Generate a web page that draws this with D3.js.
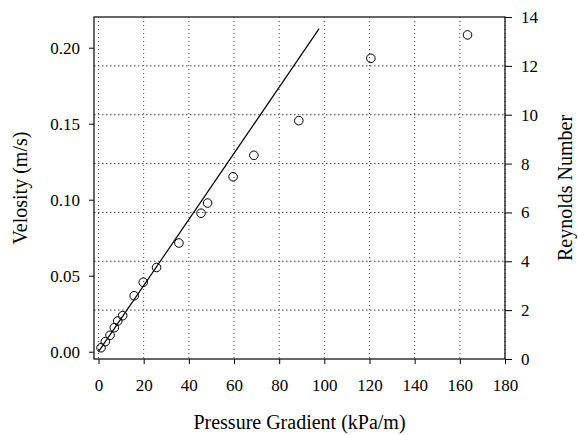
<!DOCTYPE html>
<html>
<head>
<meta charset="utf-8">
<script src="https://cdn.jsdelivr.net/npm/d3@7"></script>
<style>
  body { margin: 0; background: #fff; }
  svg text { font-family: "Liberation Serif", "Times New Roman", serif; fill: #000; }
</style>
</head>
<body>
<svg id="chart" width="578" height="435"></svg>
<script>
// values
const pressureGradient = [1.1, 3.0, 5.1, 7.0, 8.5, 10.7, 15.8, 19.8, 25.7, 35.6, 45.4, 48.3, 59.6, 68.8, 88.7, 120.6, 163.4];
const velocity = [0.0026, 0.0066, 0.0108, 0.0158, 0.0202, 0.0237, 0.0368, 0.0457, 0.0554, 0.0715, 0.0911, 0.0978, 0.1151, 0.1292, 0.152, 0.193, 0.2084];
const fitX = [0, 97.7];
const fitY = [0, 0.2125];
const xTicks = [0, 20, 40, 60, 80, 100, 120, 140, 160, 180];
const velocityTicks = [0, 0.05, 0.10, 0.15, 0.20];
const reynoldsTicks = [0, 2, 4, 6, 8, 10, 12, 14];

const _margin = { top: 17, right: 73, bottom: 76, left: 94 };

const svg = d3.select("#chart");
const width = +svg.attr("width") - _margin.left - _margin.right;
const height = +svg.attr("height") - _margin.top - _margin.bottom;
const g = svg.append("g").attr("transform", "translate(" + _margin.left + "," + _margin.top + ")");

const x = d3.scaleLinear().domain([-2, 180]).range([0, width]);
const y = d3.scaleLinear().domain([-0.0048, 0.2202]).range([height, 0]);
const yRe = d3.scaleLinear().domain([0, 14]).range([height, 0]);

// dotted grid
g.append("g").selectAll("line")
    .data(xTicks)
    .join("line")
    .attr("x1", d => x(d)).attr("x2", d => x(d))
    .attr("y1", 0).attr("y2", height)
    .attr("stroke", "#444")
    .attr("stroke-width", 1)
    .attr("stroke-dasharray", "1,3");

g.append("g").selectAll("line")
    .data(reynoldsTicks.slice(1, -1))
    .join("line")
    .attr("x1", 0).attr("x2", width)
    .attr("y1", d => yRe(d)).attr("y2", d => yRe(d))
    .attr("stroke", "#444")
    .attr("stroke-width", 1)
    .attr("stroke-dasharray", "1.5,2.5");

// axes
const fontSize = "17px";

const xAxis = g.append("g")
    .attr("transform", "translate(0," + height + ")")
    .call(d3.axisBottom(x).tickValues(xTicks).tickSize(5).tickSizeOuter(0).tickPadding(15));

const yAxis = g.append("g")
    .call(d3.axisLeft(y).tickValues(velocityTicks).tickFormat(d3.format(".2f")).tickSize(5).tickSizeOuter(0).tickPadding(9));

const reAxis = g.append("g")
    .attr("transform", "translate(" + width + ",0)")
    .call(d3.axisRight(yRe).tickValues(reynoldsTicks).tickSize(7).tickSizeOuter(0).tickPadding(9));

[xAxis, yAxis, reAxis].forEach(a => {
    a.select(".domain").remove();
    a.selectAll("text").style("font-size", fontSize).style("font-family", '"Liberation Serif", "Times New Roman", serif');
    a.selectAll("line").attr("stroke", "#000");
});

// frame
g.append("rect")
    .attr("x", 0).attr("y", 0)
    .attr("width", width).attr("height", height)
    .attr("fill", "none")
    .attr("stroke", "#000")
    .attr("stroke-width", 1.2);

// fitted line
const line = d3.line()
    .x(d => x(d[0]))
    .y(d => y(d[1]));

g.append("path")
    .datum(fitX.map((v, i) => [v, fitY[i]]))
    .attr("d", line)
    .attr("fill", "none")
    .attr("stroke", "#000")
    .attr("stroke-width", 1.2);

// measured points
g.append("g").selectAll("circle")
    .data(pressureGradient.map((v, i) => [v, velocity[i]]))
    .join("circle")
    .attr("cx", d => x(d[0]))
    .attr("cy", d => y(d[1]))
    .attr("r", 4.3)
    .attr("fill", "none")
    .attr("stroke", "#000")
    .attr("stroke-width", 1);

// titles
svg.append("text")
    .attr("x", _margin.left + width / 2)
    .attr("y", 429)
    .attr("text-anchor", "middle")
    .style("font-size", "20px")
    .text("Pressure Gradient (kPa/m)");

svg.append("text")
    .attr("transform", "translate(27," + (_margin.top + height / 2) + ") rotate(-90)")
    .attr("text-anchor", "middle")
    .style("font-size", "20px")
    .text("Velosity (m/s)");

svg.append("text")
    .attr("transform", "translate(572," + (_margin.top + height / 2) + ") rotate(-90)")
    .attr("text-anchor", "middle")
    .style("font-size", "20px")
    .text("Reynolds Number");
</script>
</body>
</html>
